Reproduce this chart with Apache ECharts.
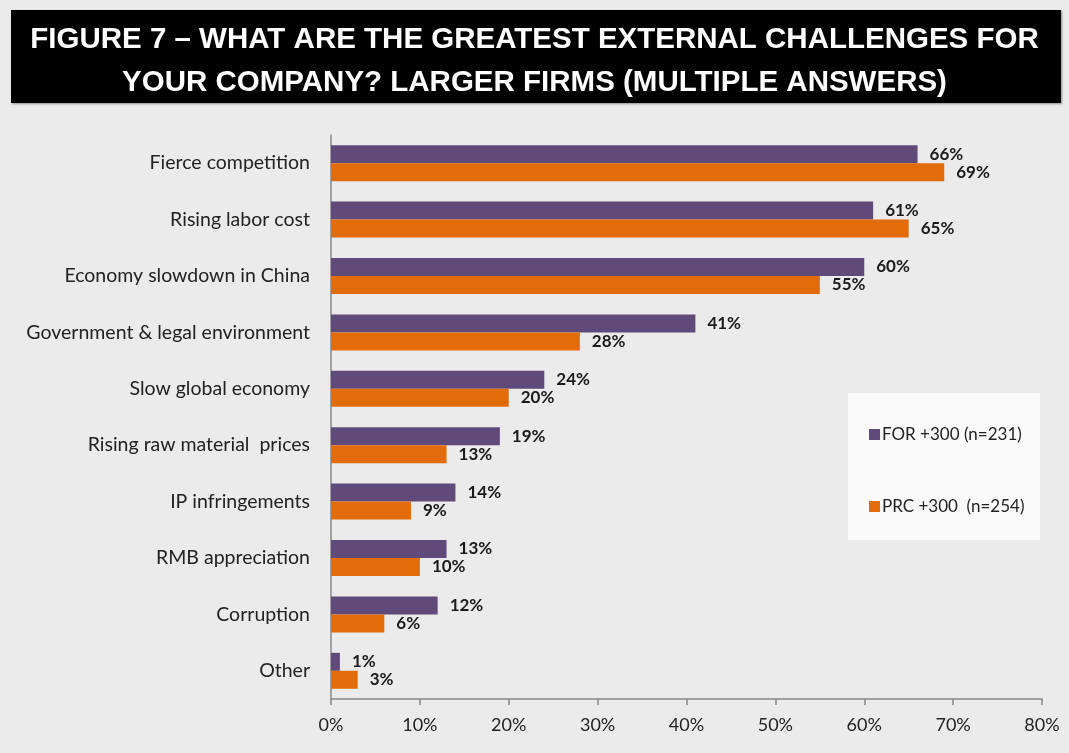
<!DOCTYPE html>
<html><head><meta charset="utf-8">
<script src="https://cdn.jsdelivr.net/npm/echarts@6/dist/echarts.min.js"></script>
<style>html,body{margin:0;padding:0;background:#ebebeb}#c{width:1069px;height:753px}</style>
</head><body><div id="c"></div>
<script>
const categories = ["Fierce competition","Rising labor cost","Economy slowdown in China","Government & legal environment","Slow global economy","Rising raw material  prices","IP infringements","RMB appreciation","Corruption","Other"];
const forValues = [66,61,60,41,24,19,14,13,12,1];
const prcValues = [69,65,55,28,20,13,9,10,6,3];
const seriesNames = ["FOR +300 (n=231)","PRC +300  (n=254)"];
const xTicks = [0,10,20,30,40,50,60,70,80];
const titleText = "FIGURE 7 \u2013 WHAT ARE THE GREATEST EXTERNAL CHALLENGES FOR\nYOUR COMPANY? LARGER FIRMS (MULTIPLE ANSWERS)";

const chart = echarts.init(document.getElementById('c'));
const lbl = {show:true, position:'right', distance:12, formatter:p=>p.value+'%', color:'#1a1a1a', fontWeight:'bold', fontSize:17, fontFamily:'Lato'};
chart.setOption({
  backgroundColor:'#ebebeb',
  animation:false,
  graphic:[
    {type:'rect', shape:{x:11,y:10,width:1050,height:93}, style:{fill:'#000', shadowBlur:2, shadowColor:'rgba(0,0,0,0.4)', shadowOffsetX:1, shadowOffsetY:1}},
    {type:'rect', shape:{x:848,y:393,width:192,height:147}, style:{fill:'#fafafa'}}
  ],
  title:{text:titleText, left:'center', top:13, textStyle:{color:'#fff', fontFamily:'Liberation Sans', fontWeight:'bold', fontSize:29.5, lineHeight:43}},
  legend:{orient:'vertical', left:864, top:421, itemWidth:11, itemHeight:11, itemGap:55, icon:'rect',
    textStyle:{fontFamily:'Lato', fontSize:17, color:'#222', padding:[0,0,0,-3]}, data:seriesNames},
  grid:{left:331, right:27, top:135, bottom:54},
  xAxis:{type:'value', min:0, max:80, interval:10,
    axisLine:{show:true, lineStyle:{color:'#888', width:1.5}}, axisTick:{show:true, length:6, lineStyle:{color:'#888', width:1.5}},
    splitLine:{show:false},
    axisLabel:{formatter:v=>v+'%', fontFamily:'Lato', fontSize:18, color:'#222', margin:17}},
  yAxis:{type:'category', data:categories, inverse:true,
    axisLine:{show:true, lineStyle:{color:'#888', width:1.5}}, axisTick:{show:false},
    axisLabel:{fontFamily:'Lato', fontSize:19.5, color:'#222', margin:21}},
  series:[
    {name:seriesNames[0], type:'bar', data:forValues, barWidth:18, barGap:'0%', itemStyle:{color:'#5f4a7a'}, label:lbl},
    {name:seriesNames[1], type:'bar', data:prcValues, barWidth:18, itemStyle:{color:'#e36c0a'}, label:lbl}
  ]
});
</script></body></html>
